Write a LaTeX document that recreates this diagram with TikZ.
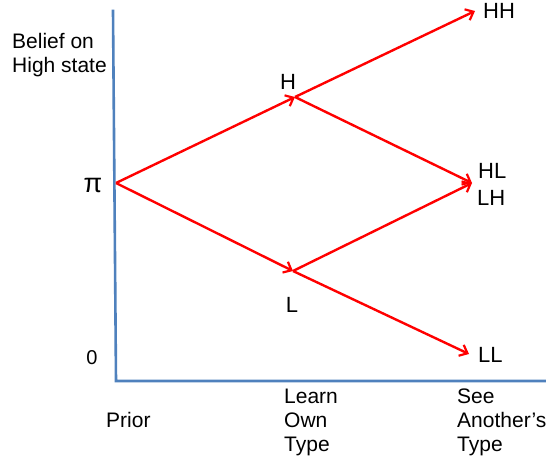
\documentclass[tikz,border=0pt]{standalone}
\usepackage{fontspec}
\setmainfont{Liberation Sans}
\usetikzlibrary{arrows.meta}
\begin{document}
\begin{tikzpicture}[x=1pt,y=-1pt,
  axis/.style={draw={rgb,255:red,79;green,129;blue,189}, line width=2.6pt},
  branch/.style={draw=red, line width=2.4pt, -{Straight Barb[length=7pt,width=12pt,line width=2.2pt]}},
  lbl/.style={font=\fontsize{22}{26}\selectfont, inner sep=0pt},
  axlbl/.style={font=\fontsize{21}{24}\selectfont, inner sep=0pt, align=left}]
\useasboundingbox (0,0) rectangle (546,459);
% axes
\coordinate (top) at (113,11);
\coordinate (corner) at (116,381);
\coordinate (right) at (546,381);
\draw[axis, line cap=rect] (top) -- (corner) -- (right);
% branch points
\coordinate (P) at (116,183);
\coordinate (H) at (295,97);
\coordinate (L) at (293,271);
\coordinate (HH) at (475,11);
\coordinate (HLLH) at (472,183);
\coordinate (LL) at (469,354);
\draw[branch] (P) -- (H);
\draw[branch] (P) -- (L);
\draw[branch] (H) -- (HH);
\draw[branch] (H) -- (HLLH);
\draw[branch] (L) -- (HLLH);
\draw[branch] (L) -- (LL);
% labels
\node[lbl] (pi) at (93,185) {\fontsize{27}{30}\selectfont π};
\node[lbl] (zero) at (92,358) {\fontsize{20}{24}\selectfont 0};
\node[lbl] (hl) at (288,82) {H};
\node[lbl] (ll) at (292,305) {L};
\node[lbl, anchor=west] (hhl) at (483,11) {HH};
\node[lbl, anchor=west] (hll) at (478,171) {HL};
\node[lbl, anchor=west] (lhl) at (477,198) {LH};
\node[lbl, anchor=west] (lll) at (478,355) {LL};
\node[axlbl, anchor=north west] (belief) at (12,33) {Belief on\\High state};
\node[axlbl, anchor=west] (prior) at (106,420) {Prior};
\node[axlbl, anchor=north west] (learn) at (284,389) {Learn\\Own\\Type};
\node[axlbl, anchor=north west] (see) at (457,389) {See\\Another’s\\Type};
\end{tikzpicture}
\end{document}
